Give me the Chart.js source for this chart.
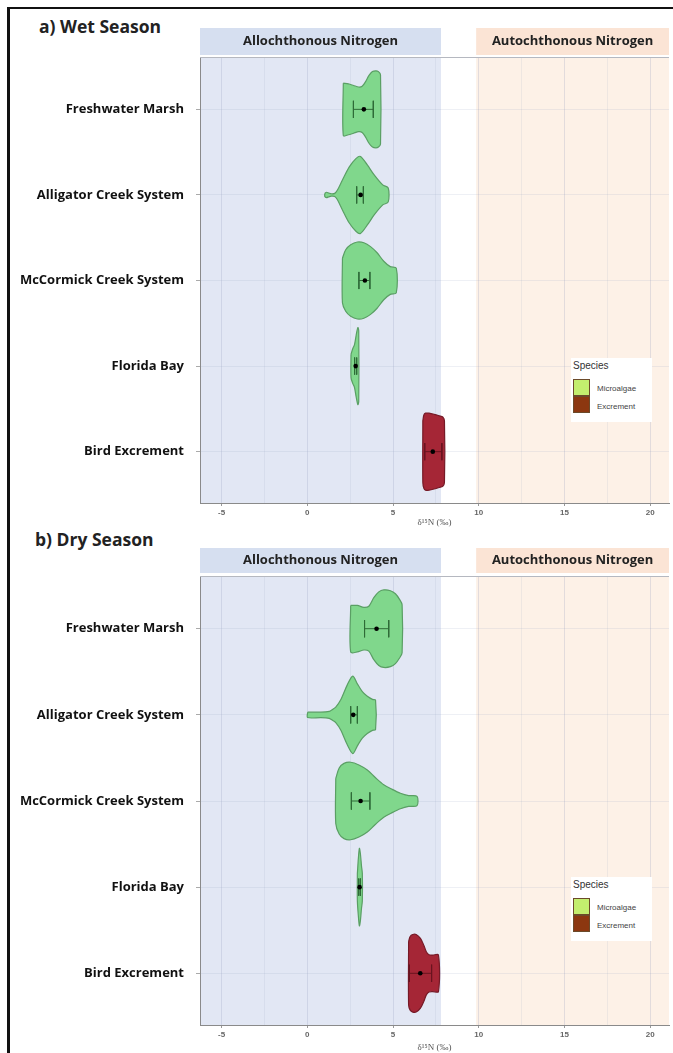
<!DOCTYPE html>
<html>
<head>
<meta charset="utf-8">
<script src="https://cdn.jsdelivr.net/npm/chart.js@4.4.1/dist/chart.umd.min.js"></script>
<style>
  body { margin: 0; background: #fff; }
  #page { position: relative; width: 673px; height: 1053px; overflow: hidden; background: #fff; }
  .frame-top { position: absolute; left: 7px; top: 7px; width: 666px; height: 2px; background: #111; }
  .frame-left { position: absolute; left: 7px; top: 7px; width: 3px; height: 1046px; background: #111; }
  .ptitle { position: absolute; font: 700 17.5px "Open Sans", sans-serif; color: #222; line-height: 22px; white-space: nowrap; }
  canvas { position: absolute; left: 0; }
  .legend { position: absolute; left: 571px; width: 81px; height: 64px; background: #fff; font-family: "Liberation Sans", Arial, sans-serif; }
  .legend .lt { position: absolute; left: 2px; top: 2px; font-size: 10px; color: #333; line-height: 12px; }
  .legend .sw { position: absolute; left: 2px; width: 17px; height: 17px; border: 1px solid #6b4a2a; box-sizing: border-box; }
  .legend .lab { position: absolute; left: 26px; font-size: 8px; color: #444; line-height: 10px; }
</style>
</head>
<body>
<div id="page">
  <div class="frame-top"></div>
  <div class="frame-left"></div>
  <div class="ptitle" style="left:39px; top:15px;">a) Wet Season</div>
  <div class="ptitle" style="left:35px; top:528px;">b) Dry Season</div>
  <canvas id="wet" width="673" height="530" style="top:0; width:673px; height:530px;"></canvas>
  <canvas id="dry" width="673" height="523" style="top:530px; width:673px; height:523px;"></canvas>
  <div class="legend" style="top:358px;">
    <div class="lt">Species</div>
    <div class="sw" style="top:21px; background:#c3ee6e;"></div>
    <div class="sw" style="top:38px; background:#8c3710;"></div>
    <div class="lab" style="top:26px;">Microalgae</div>
    <div class="lab" style="top:44px;">Excrement</div>
  </div>
  <div class="legend" style="top:877px;">
    <div class="lt">Species</div>
    <div class="sw" style="top:21px; background:#c3ee6e;"></div>
    <div class="sw" style="top:38px; background:#8c3710;"></div>
    <div class="lab" style="top:26px;">Microalgae</div>
    <div class="lab" style="top:44px;">Excrement</div>
  </div>
</div>
<script>
// Sampling sites, top to bottom, and the species sampled at each
const sites = ['Freshwater Marsh', 'Alligator Creek System', 'McCormick Creek System', 'Florida Bay', 'Bird Excrement'];
const siteSpecies = ['Microalgae', 'Microalgae', 'Microalgae', 'Microalgae', 'Excrement'];
const xTickValues = [-5, 0, 5, 10, 15, 20];
const xMinorValues = [-2.5, 2.5, 7.5, 12.5, 17.5];

// Source ranges shaded behind the violins (δ15N, ‰)
const allochthonousMax = 7.8;
const autochthonousMin = 9.85;

// Wet season: violin outlines as δ15N positions and relative density (1 = widest)
const wetMarshN = [2.10, 2.40, 2.70, 3.00, 3.20, 3.40, 3.60, 3.80, 4.00, 4.15, 4.27];
const wetMarshD = [0.68, 0.66, 0.62, 0.58, 0.60, 0.72, 0.88, 0.98, 1.00, 0.98, 0.90];
const wetAlligatorN = [1.02, 1.12, 1.25, 1.40, 1.60, 1.75, 2.05, 2.45, 2.85, 3.10, 3.50, 3.90, 4.40, 4.72];
const wetAlligatorD = [0.04, 0.07, 0.05, 0.03, 0.04, 0.12, 0.39, 0.73, 0.95, 1.00, 0.78, 0.52, 0.26, 0.18];
const wetMcCormickN = [2.05, 2.24, 2.53, 2.92, 3.30, 3.69, 4.07, 4.46, 4.84, 5.19];
const wetMcCormickD = [0.58, 0.80, 0.93, 1.00, 0.98, 0.88, 0.72, 0.50, 0.36, 0.32];
const wetFloridaN = [2.55, 2.65, 2.75, 2.85, 2.95, 3.00];
const wetFloridaD = [0.30, 0.45, 0.55, 0.80, 1.00, 0.92];
const wetBirdN = [6.74, 6.80, 6.90, 7.10, 7.40, 7.70, 7.90, 8.00];
const wetBirdD = [0.80, 0.95, 1.00, 1.00, 0.97, 0.93, 0.90, 0.80];

// Wet season: mean and error bar limits
const wetMean = [3.30, 3.11, 3.36, 2.82, 7.32];
const wetLow  = [2.69, 2.88, 3.01, 2.76, 6.85];
const wetHigh = [3.85, 3.27, 3.65, 2.88, 7.85];

// Dry season: violin outlines
const dryMarshN = [2.53, 2.92, 3.30, 3.59, 3.88, 4.17, 4.46, 4.85, 5.14, 5.39, 5.53];
const dryMarshD = [0.60, 0.60, 0.55, 0.58, 0.80, 0.95, 1.00, 0.98, 0.90, 0.75, 0.62];
const dryAlligatorN = [0.02, 0.79, 1.28, 1.47, 1.66, 1.95, 2.34, 2.65, 2.92, 3.21, 3.50, 3.80, 3.98];
const dryAlligatorD = [0.07, 0.07, 0.09, 0.14, 0.20, 0.39, 0.78, 1.00, 0.80, 0.60, 0.48, 0.40, 0.38];
const dryMcCormickN = [1.66, 1.86, 2.14, 2.53, 3.01, 3.50, 3.98, 4.46, 4.95, 5.43, 5.91, 6.40];
const dryMcCormickD = [0.58, 0.85, 0.97, 1.00, 0.93, 0.80, 0.60, 0.42, 0.30, 0.20, 0.14, 0.12];
const dryFloridaN = [2.92, 2.98, 3.04, 3.10, 3.16, 3.21];
const dryFloridaD = [0.35, 0.75, 1.00, 0.85, 0.55, 0.35];
const dryBirdN = [5.91, 6.00, 6.15, 6.35, 6.60, 6.80, 6.95, 7.10, 7.30, 7.65];
const dryBirdD = [0.82, 0.95, 1.00, 1.00, 0.90, 0.72, 0.55, 0.48, 0.47, 0.47];

// Dry season: mean and error bar limits
const dryMean = [4.04, 2.68, 3.11, 3.05, 6.59];
const dryLow  = [3.34, 2.53, 2.57, 3.00, 5.95];
const dryHigh = [4.75, 2.92, 3.65, 3.10, 7.25];

const speciesStyle = {
  Microalgae: { fill: '#80d78c', line: '#5a9f64', bar: '#2f6b38' },
  Excrement:  { fill: '#a52636', line: '#761a27', bar: '#6a1420' }
};

const HALF_WIDTH = 0.45;
const CAP = 0.1;

function violinPoints(n, d, row) {
  const upper = n.map((v, i) => ({ x: v, y: row - HALF_WIDTH * d[i] }));
  const lower = n.map((v, i) => ({ x: v, y: row + HALF_WIDTH * d[i] })).reverse();
  return [...upper, ...lower, upper[0]];
}

function errorBarPoints(lo, hi, row) {
  return [
    { x: lo, y: row - CAP }, { x: lo, y: row + CAP }, { x: lo, y: null },
    { x: lo, y: row }, { x: hi, y: row }, { x: hi, y: null },
    { x: hi, y: row - CAP }, { x: hi, y: row + CAP }
  ];
}

// Violins sit at the back, error bars over them, means on top
function buildDatasets(profiles, mean, low, high) {
  const sets = [];
  profiles.forEach(([n, d], i) => {
    const st = speciesStyle[siteSpecies[i]];
    sets.push({
      order: 3,
      data: violinPoints(n, d, i + 1),
      showLine: true, fill: 'shape', tension: 0.3,
      backgroundColor: st.fill, borderColor: st.line, borderWidth: 1.2,
      pointRadius: 0
    });
    sets.push({
      order: 2,
      data: errorBarPoints(low[i], high[i], i + 1),
      showLine: true, spanGaps: false, tension: 0, fill: false,
      borderColor: st.bar, borderWidth: 1, pointRadius: 0
    });
  });
  sets.push({
    order: 1,
    data: mean.map((m, i) => ({ x: m, y: i + 1 })),
    showLine: false, pointRadius: 2.3, pointBackgroundColor: '#000', pointBorderWidth: 0
  });
  return sets;
}

// Shaded source ranges and their header strips
const bandPlugin = {
  id: 'bands',
  beforeDraw(chart, args, opts) {
    const { ctx, chartArea: a, scales: { x } } = chart;
    const xa = x.getPixelForValue(allochthonousMax);
    const xb = x.getPixelForValue(autochthonousMin);
    ctx.save();
    ctx.fillStyle = '#ffffff';
    ctx.fillRect(a.left, a.top, a.right - a.left, a.bottom - a.top);
    ctx.fillStyle = '#e2e7f4';
    ctx.fillRect(a.left, a.top, xa - a.left, a.bottom - a.top);
    ctx.fillStyle = '#fdf1e7';
    ctx.fillRect(xb, a.top, a.right - xb, a.bottom - a.top);
    const st = a.top - opts.offset;
    ctx.fillStyle = '#d6dff0';
    ctx.fillRect(a.left, st, xa - a.left, opts.height);
    ctx.fillStyle = '#fbe4d5';
    ctx.fillRect(xb, st, a.right - xb, opts.height);
    ctx.fillStyle = '#222';
    ctx.font = 'bold 13px "Open Sans", sans-serif';
    ctx.textAlign = 'center';
    ctx.textBaseline = 'middle';
    ctx.fillText('Allochthonous Nitrogen', (a.left + xa) / 2, st + opts.height / 2);
    ctx.fillText('Autochthonous Nitrogen', (xb + a.right) / 2, st + opts.height / 2);
    ctx.strokeStyle = '#b5b8c0';
    ctx.lineWidth = 1;
    ctx.beginPath();
    ctx.moveTo(a.left, a.top - 0.5);
    ctx.lineTo(a.right, a.top - 0.5);
    ctx.stroke();
    ctx.restore();
  }
};

function makeChart(id, datasets, padTop, axisHeight, stripOffset, stripHeight, titlePad) {
  return new Chart(document.getElementById(id), {
    type: 'scatter',
    data: { datasets },
    plugins: [bandPlugin],
    options: {
      responsive: false,
      animation: false,
      events: [],
      layout: { padding: { left: 0, right: 1, top: padTop, bottom: 0 } },
      plugins: {
        legend: { display: false },
        tooltip: { enabled: false },
        bands: { offset: stripOffset, height: stripHeight }
      },
      scales: {
        x: {
          type: 'linear', min: -6.26, max: 21.1,
          afterBuildTicks: (s) => { s.ticks = [...xTickValues, ...xMinorValues].sort((p, q) => p - q).map(v => ({ value: v })); },
          afterFit: (s) => { s.height = axisHeight; },
          ticks: {
            autoSkip: false, maxRotation: 0, padding: 2,
            font: { family: '"Liberation Sans", Arial, sans-serif', size: 8, weight: 'bold' },
            color: '#666',
            callback: (v) => (xTickValues.includes(v) ? String(v) : '')
          },
          grid: {
            tickLength: 3,
            color: (c) => (c.tick && xTickValues.includes(c.tick.value) ? 'rgba(150,160,190,0.26)' : 'rgba(150,160,190,0.14)'),
            tickColor: (c) => (c.tick && xTickValues.includes(c.tick.value) ? '#999' : 'rgba(0,0,0,0)')
          },
          border: { display: true, color: '#8a8a8a', width: 1 },
          title: {
            display: true, text: 'δ¹⁵N (‰)', color: '#555',
            font: { family: '"Liberation Serif", serif', size: 9 },
            padding: { top: 0, bottom: titlePad }
          }
        },
        y: {
          type: 'linear', reverse: true, min: 0.4, max: 5.6,
          afterBuildTicks: (s) => { s.ticks = sites.map((_, i) => ({ value: i + 1 })); },
          afterFit: (s) => { s.width = 200; },
          ticks: {
            autoSkip: false, padding: 12,
            font: { family: '"Open Sans", sans-serif', size: 13, weight: 'bold' },
            color: '#111',
            callback: (v) => sites[v - 1] || ''
          },
          grid: { tickLength: 4, color: 'rgba(150,160,190,0.16)', tickColor: '#aaa' },
          border: { display: true, color: '#8a8a8a', width: 1 }
        }
      }
    }
  });
}

const wetProfiles = [
  [wetMarshN, wetMarshD], [wetAlligatorN, wetAlligatorD], [wetMcCormickN, wetMcCormickD],
  [wetFloridaN, wetFloridaD], [wetBirdN, wetBirdD]
];
const dryProfiles = [
  [dryMarshN, dryMarshD], [dryAlligatorN, dryAlligatorD], [dryMcCormickN, dryMcCormickD],
  [dryFloridaN, dryFloridaD], [dryBirdN, dryBirdD]
];

makeChart('wet', buildDatasets(wetProfiles, wetMean, wetLow, wetHigh), 58, 27, 30, 27, 2);
makeChart('dry', buildDatasets(dryProfiles, dryMean, dryLow, dryHigh), 47, 28, 29, 25, 0);
</script>
</body>
</html>
